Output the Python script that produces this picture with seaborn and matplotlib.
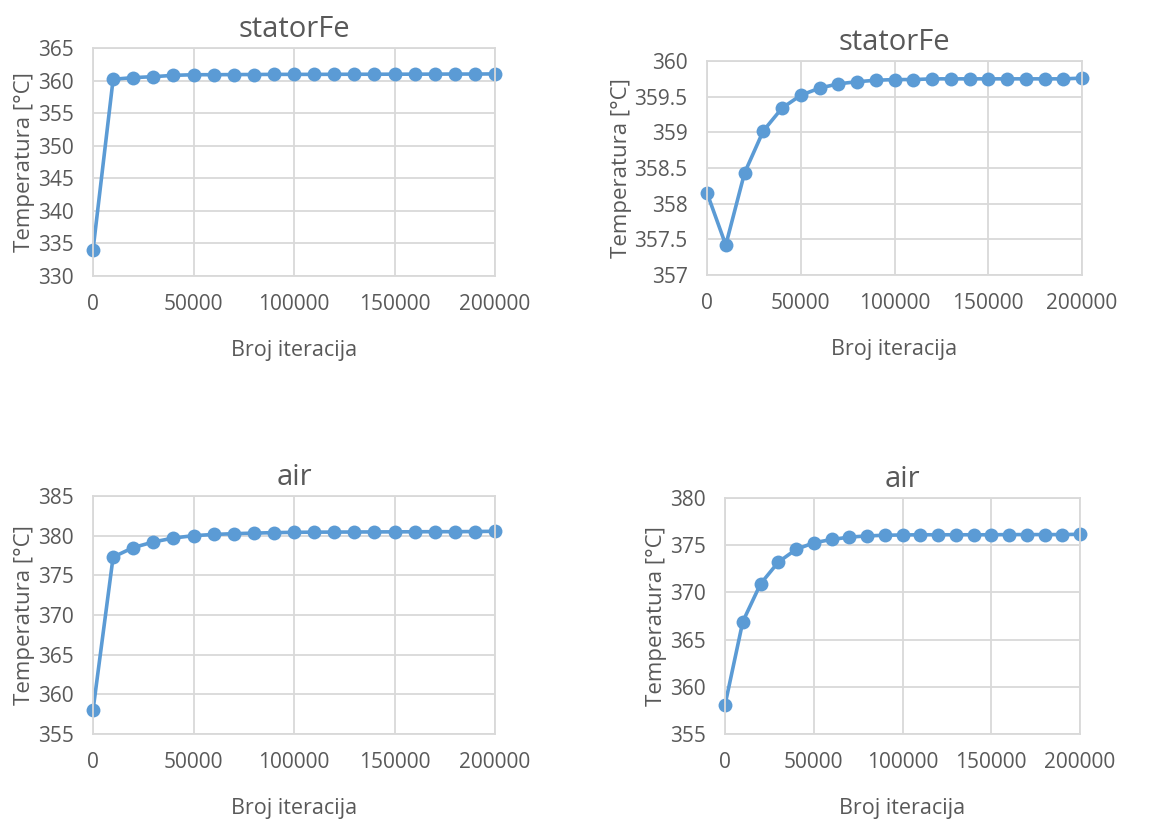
import numpy as np
import pandas as pd
import seaborn as sns
import matplotlib.pyplot as plt
from matplotlib.ticker import FuncFormatter, MultipleLocator

# iterations (same for all four charts)
iteracije = list(range(0, 200001, 10000))

# statorFe, run 1 (top left)
stator_1 = [334.0, 360.2, 360.45, 360.6, 360.8, 360.9, 360.9, 360.92, 360.93, 360.95, 360.95,
            360.95, 360.96, 360.97, 360.97, 360.98, 360.98, 360.99, 361.0, 361.0, 361.02]
# statorFe, run 2 (top right)
stator_2 = [358.15, 357.42, 358.43, 359.02, 359.34, 359.52, 359.62, 359.68, 359.71, 359.73, 359.74,
            359.74, 359.75, 359.75, 359.75, 359.75, 359.75, 359.75, 359.75, 359.75, 359.76]
# air, run 1 (bottom left)
air_1 = [358.0, 377.3, 378.5, 379.2, 379.7, 380.0, 380.15, 380.25, 380.32, 380.38, 380.42,
         380.44, 380.45, 380.46, 380.47, 380.48, 380.49, 380.5, 380.5, 380.52, 380.55]
# air, run 2 (bottom right)
air_2 = [358.1, 366.9, 370.9, 373.2, 374.55, 375.25, 375.6, 375.85, 375.98, 376.05, 376.08,
         376.1, 376.1, 376.1, 376.1, 376.1, 376.12, 376.12, 376.12, 376.12, 376.15]

naslovi = ["statorFe", "statorFe", "air", "air"]
serije = [stator_1, stator_2, air_1, air_2]
y_granice = [(330, 365, 5), (357, 360, 0.5), (355, 385, 5), (355, 380, 5)]

sns.set_theme(style="whitegrid")
plt.rcParams['font.family'] = ['Open Sans', 'DejaVu Sans']

TEXT = "#595959"
GRID = "#D9D9D9"
BLUE = "#5B9BD5"

fig = plt.figure(figsize=(11.7, 8.19), dpi=100)
pozicije = [
    [0.0795, 0.663, 0.3436, 0.2784],
    [0.6043, 0.6642, 0.3205, 0.2613],
    [0.0795, 0.1038, 0.3436, 0.2906],
    [0.6197, 0.1038, 0.3034, 0.2882],
]

fmt = FuncFormatter(lambda v, p: f"{v:g}")

for pos, naslov, y, (lo, hi, step) in zip(pozicije, naslovi, serije, y_granice):
    ax = fig.add_axes(pos)
    df = pd.DataFrame({"iter": iteracije, "temp": y})
    sns.lineplot(data=df, x="iter", y="temp", ax=ax, color=BLUE, linewidth=2.6,
                 marker="o", markersize=10, markeredgewidth=0, markeredgecolor=BLUE)
    ax.set_xlim(0, 200000)
    ax.set_ylim(lo, hi)
    ax.xaxis.set_major_locator(MultipleLocator(50000))
    ax.yaxis.set_major_locator(MultipleLocator(step))
    ax.yaxis.set_major_formatter(fmt)
    ax.xaxis.set_major_formatter(fmt)
    ax.grid(True, color=GRID, linewidth=1.3)
    for s in ax.spines.values():
        s.set_color(GRID)
        s.set_linewidth(1.3)
    ax.set_facecolor("white")
    ax.tick_params(axis="both", length=0, labelsize=15, colors=TEXT)
    ax.tick_params(axis="x", pad=13)
    ax.tick_params(axis="y", pad=14)
    ax.set_title(naslov, fontsize=21, color=TEXT, pad=8)
    ax.set_xlabel("Broj iteracija", fontsize=15.5, color=TEXT, labelpad=18)
    ax.set_ylabel("Temperatura [°C]", fontsize=16, color=TEXT, labelpad=2)
    for line in ax.lines:
        line.set_clip_on(False)

fig.savefig("out.png", dpi=100, facecolor="white")
